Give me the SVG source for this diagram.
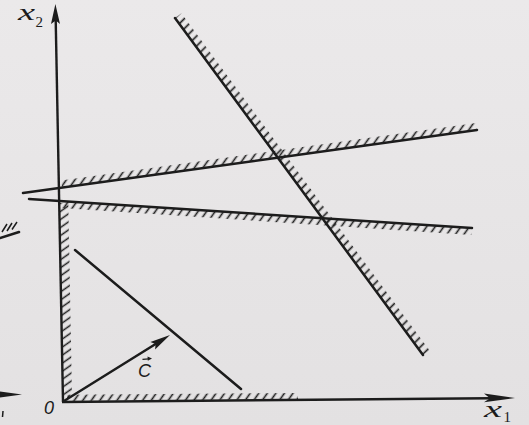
<svg xmlns="http://www.w3.org/2000/svg" width="529" height="425" viewBox="0 0 529 425">
<defs>
<linearGradient id="bg" x1="0" y1="0" x2="0" y2="1">
<stop offset="0" stop-color="#ebe9ea"/>
<stop offset="1" stop-color="#e3e1e2"/>
</linearGradient>
<pattern id="hatchH" patternUnits="userSpaceOnUse" width="7" height="7" patternTransform="rotate(35)">
<rect x="2.7" y="-1" width="1.6" height="9" fill="#1f1f1f"/>
</pattern>
<pattern id="hatchV" patternUnits="userSpaceOnUse" width="6.6" height="6.6" patternTransform="rotate(55)">
<rect x="2.5" y="-1" width="1.5" height="9" fill="#1f1f1f"/>
</pattern>
<pattern id="hatchD" patternUnits="userSpaceOnUse" width="7" height="7" patternTransform="rotate(45)">
<rect x="2.7" y="-1" width="1.7" height="9" fill="#1f1f1f"/>
</pattern>
<style>
.ln{stroke:#1c1c1c;stroke-width:2.5;fill:none;stroke-linecap:round}
.ax{stroke:#1c1c1c;stroke-width:2.4;fill:none}
.hd{fill:#1c1c1c;stroke:none}
.it{font-family:"Liberation Serif",serif;font-style:italic;fill:#1c1c1c}
.sn{font-family:"Liberation Sans",sans-serif;font-style:italic;fill:#1c1c1c}
.sb{font-family:"Liberation Serif",serif;fill:#1c1c1c}
</style>
</defs>
<rect width="529" height="425" fill="url(#bg)"/>

<g id="fragments">
<line class="ln" x1="0" y1="238" x2="19" y2="232" stroke-width="2"/>
<path d="M2 232 L7 224 M7 231 L12 223 M12 229.5 L17 222" stroke="#1c1c1c" stroke-width="1.5" fill="none"/>
<polygon class="hd" points="0,391.5 22,394.5 0,397.5"/>
<line x1="3" y1="411" x2="2.5" y2="417" stroke="#1c1c1c" stroke-width="1.5"/>
</g>

<g id="hatching">
<polygon fill="url(#hatchD)" points="175,18 423,355 429.4,350.3 181.4,13.3"/>
<polygon fill="url(#hatchH)" points="62,187.6 477,130 476,123 61,180.6"/>
<polygon fill="url(#hatchH)" points="62,201.1 472,228 471.5,235 61.5,208.1"/>
<polygon fill="url(#hatchV)" points="59.3,203 63,396 72,396 68.3,203"/>
<polygon fill="url(#hatchH)" points="67,401 298,399.2 298,393 67,394.8"/>
</g>

<g id="axes">
<line class="ax" x1="55.7" y1="20" x2="63" y2="402"/>
<polygon class="hd" points="55.4,4 60,24 55.8,20.5 51,24"/>
<line class="ax" x1="62" y1="402" x2="490" y2="398.2"/>
<polygon class="hd" points="515,398 484,393.6 490,398.2 484,402.2"/>
</g>

<g id="constraints">
<line class="ln" x1="175" y1="18" x2="423" y2="355"/>
<line class="ln" x1="23" y1="193" x2="477" y2="130"/>
<line class="ln" x1="29" y1="199" x2="472" y2="228"/>
</g>

<g id="objective">
<line class="ln" x1="75" y1="250" x2="241" y2="389"/>
</g>

<g id="vector-c">
<line class="ln" x1="64" y1="401" x2="156" y2="343.7"/>
<polygon class="hd" points="170,335 155.1,349.5 155.6,344 150.4,342"/>
<line x1="142.5" y1="359.3" x2="149" y2="358.8" stroke="#1c1c1c" stroke-width="1.2"/>
<polygon class="hd" points="152,358.6 147.5,356.6 147.8,360.8"/>
<text class="sn" x="138" y="377" font-size="18">C</text>
</g>

<g id="labels">
<text class="it" x="18" y="20" font-size="23" textLength="17" lengthAdjust="spacingAndGlyphs">x</text>
<text class="sb" x="35.5" y="26.5" font-size="15">2</text>
<text class="it" x="484" y="417" font-size="23" textLength="18" lengthAdjust="spacingAndGlyphs">x</text>
<text class="sb" x="503.5" y="422" font-size="15">1</text>
<text class="sn" x="44" y="414" font-size="18">0</text>
</g>
</svg>
